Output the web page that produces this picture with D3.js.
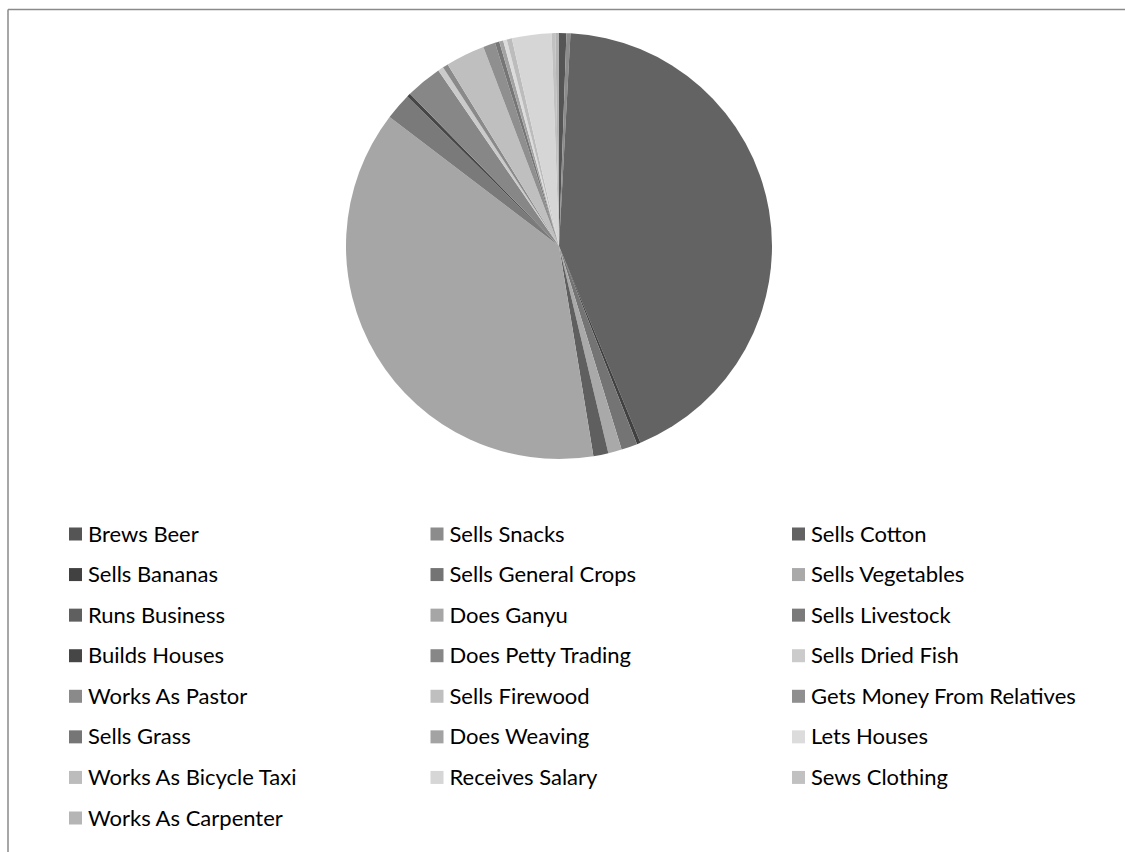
<!DOCTYPE html>
<html>
<head>
<meta charset="utf-8">
<script src="https://cdn.jsdelivr.net/npm/d3@7/dist/d3.min.js"></script>
<style>
  html, body { margin: 0; padding: 0; background: #fff; }
  svg { display: block; }
  .legend text { font-family: Lato, "Noto Sans", sans-serif; font-size: 22px; fill: #000; }
</style>
</head>
<body>
<svg id="chart" width="1125" height="852"></svg>
<script>
// Income sources, in the order they are drawn (clockwise from 12 o'clock)
const categories = [
  "Brews Beer", "Sells Snacks", "Sells Cotton",
  "Sells Bananas", "Sells General Crops", "Sells Vegetables",
  "Runs Business", "Does Ganyu", "Sells Livestock",
  "Builds Houses", "Does Petty Trading", "Sells Dried Fish",
  "Works As Pastor", "Sells Firewood", "Gets Money From Relatives",
  "Sells Grass", "Does Weaving", "Lets Houses",
  "Works As Bicycle Taxi", "Receives Salary", "Sews Clothing",
  "Works As Carpenter"
];

// Number of responses per income source
const counts = [
  2, 1.1, 154.4,
  1, 4.4, 3.7,
  4.1, 136.6, 7.3,
  1, 9.9, 1.5,
  1.5, 10.7, 3.3,
  1.2, 1.1, 1,
  1.4, 10.8, 1,
  1
];

// Grey fill for each income source
const greys = [
  "#555555", "#8c8c8c", "#636363",
  "#414141", "#747474", "#a9a9a9",
  "#5f5f5f", "#a6a6a6", "#7a7a7a",
  "#464646", "#878787", "#cbcbcb",
  "#8a8a8a", "#bfbfbf", "#8f8f8f",
  "#767676", "#a3a3a3", "#dcdcdc",
  "#bcbcbc", "#d6d6d6", "#c1c1c1",
  "#b5b5b5"
];

const data = categories.map((name, i) => ({ name, value: counts[i] }));

const svg = d3.select("#chart");

// Frame lines along the top and left
svg.append("line")
  .attr("x1", 8).attr("y1", 9.5).attr("x2", 1125).attr("y2", 9.5)
  .attr("stroke", "#8a8a8a").attr("stroke-width", 1.5);
svg.append("line")
  .attr("x1", 8).attr("y1", 9.5).attr("x2", 8).attr("y2", 852)
  .attr("stroke", "#8a8a8a").attr("stroke-width", 1.5);

const color = d3.scaleOrdinal().domain(categories).range(greys);

const pie = d3.pie().value(d => d.value).sort(null).startAngle(0).endAngle(2 * Math.PI);
const arc = d3.arc().innerRadius(0).outerRadius(213);

const g = svg.append("g").attr("transform", "translate(559,246)");
g.selectAll("path")
  .data(pie(data))
  .join("path")
  .attr("d", arc)
  .attr("fill", d => color(d.data.name));

// Legend: three columns, filled row by row
const colX = d3.scaleLinear().domain([0, 2]).range([69, 792]);
const rowY = d3.scaleLinear().domain([0, 7]).range([534, 818]);
const sq = 13;

const legend = svg.append("g").attr("class", "legend");
const items = legend.selectAll("g")
  .data(categories)
  .join("g")
  .attr("transform", (d, i) => `translate(${colX(i % 3)},${rowY(Math.floor(i / 3))})`);

items.append("rect")
  .attr("x", 0).attr("y", -sq / 2)
  .attr("width", sq).attr("height", sq)
  .attr("fill", d => color(d));

items.append("text")
  .attr("x", 19).attr("y", 7.5)
  .text(d => d);
</script>
</body>
</html>
